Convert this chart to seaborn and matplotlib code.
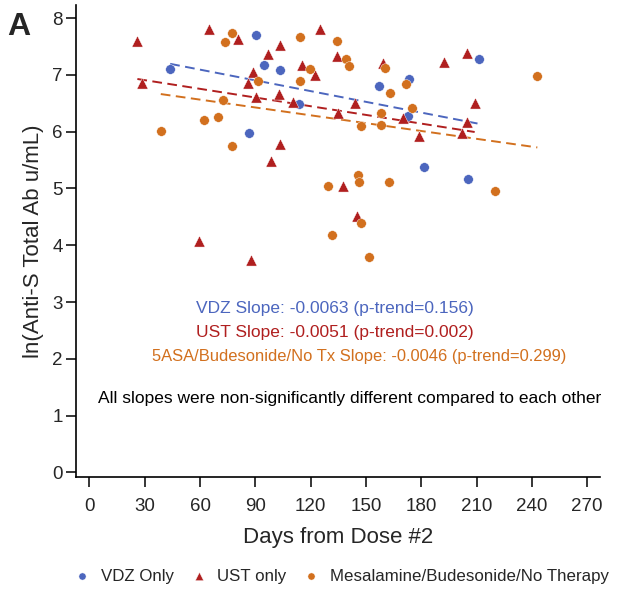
import matplotlib
matplotlib.use("Agg")
import numpy as np
import pandas as pd
import matplotlib.pyplot as plt
import seaborn as sns

# ---- data ----
vdz_days = [43.8, 90.5, 94.5, 103.5, 113.5, 86.7, 157.3, 173.3, 172.7, 211.3, 181.4, 205.2]
vdz_ab = [7.10, 7.71, 7.18, 7.09, 6.49, 5.98, 6.81, 6.93, 6.27, 7.28, 5.37, 5.17]

ust_days = [26.0, 64.6, 80.5, 125.3, 103.5, 96.6, 115.3, 122.6, 134.3, 28.7, 88.5,
            85.8, 90.5, 102.6, 110.2, 135.0, 103.5, 98.5, 59.7, 87.6, 159.1, 192.3,
            205.0, 144.3, 170.2, 209.0, 205.0, 179.0, 202.3, 137.4, 145.2]
ust_ab = [7.59, 7.81, 7.64, 7.81, 7.52, 7.37, 7.17, 6.99, 7.34, 6.86, 7.05,
          6.85, 6.61, 6.66, 6.52, 6.33, 5.78, 5.48, 4.07, 3.74, 7.21, 7.22,
          7.39, 6.50, 6.24, 6.50, 6.17, 5.93, 5.98, 5.05, 4.51]

oth_days = [77.6, 73.6, 114.4, 134.3, 119.5, 91.7, 114.4, 72.7, 62.4, 69.7, 38.7,
            77.6, 129.5, 131.7, 139.2, 140.7, 160.2, 243.0, 171.5, 163.3, 175.1,
            158.4, 147.4, 158.3, 220.0, 145.5, 146.5, 162.4, 147.4, 151.5]
oth_ab = [7.74, 7.58, 7.66, 7.59, 7.11, 6.90, 6.90, 6.55, 6.20, 6.26, 6.02,
          5.74, 5.05, 4.18, 7.28, 7.16, 7.12, 6.98, 6.84, 6.68, 6.42,
          6.32, 6.10, 6.11, 4.95, 5.24, 5.11, 5.12, 4.40, 3.80]

group_labels = ["VDZ Only", "UST only", "Mesalamine/Budesonide/No Therapy"]
trend_slopes = [-0.0063, -0.0051, -0.0046]
trend_intercepts = [7.47, 7.06, 6.84]
trend_texts = ["VDZ Slope: -0.0063 (p-trend=0.156)",
               "UST Slope: -0.0051 (p-trend=0.002)",
               "5ASA/Budesonide/No Tx Slope: -0.0046 (p-trend=0.299)"]
note_text = "All slopes were non-significantly different compared to each other"
x_ticks = [0, 30, 60, 90, 120, 150, 180, 210, 240, 270]
y_ticks = [0, 1, 2, 3, 4, 5, 6, 7, 8]

colors = ["#4C66BE", "#B01F1F", "#D2701E"]
markers = ["o", "^", "o"]
sizes = [48, 64, 48]

sns.set_theme(style="white")
plt.rcParams['font.family'] = ['Liberation Sans', 'DejaVu Sans']

df = pd.DataFrame({
    "days": vdz_days + ust_days + oth_days,
    "ab": vdz_ab + ust_ab + oth_ab,
    "group": [group_labels[0]] * len(vdz_days) + [group_labels[1]] * len(ust_days)
             + [group_labels[2]] * len(oth_days),
})

fig = plt.figure(figsize=(6.21, 5.91), dpi=100)
ax = fig.add_axes([76 / 621, 1 - 477 / 591, (600 - 76) / 621, (477 - 5) / 591])

for g, c, m, s in zip(group_labels, colors, markers, sizes):
    sub = df[df.group == g]
    sns.scatterplot(data=sub, x="days", y="ab", color=c, marker=m, s=s,
                    edgecolor="white", linewidth=0.3, ax=ax, label=g, zorder=3)

# trend lines
for g, c, b, a in zip(group_labels, colors, trend_slopes, trend_intercepts):
    sub = df[df.group == g]
    xs = np.array([sub.days.min(), sub.days.max()])
    ax.plot(xs, a + b * xs, color=c, lw=1.4, dashes=(5, 2.8), zorder=2)

ax.set_xlim(-7.3, 277)
ax.set_ylim(-0.08, 8.23)
ax.set_xticks(x_ticks)
ax.set_yticks(y_ticks)
ax.tick_params(axis="both", which="both", direction="out", length=7, width=1.1,
               color="black", labelsize=13.5, left=True, bottom=True)
ax.tick_params(axis="x", pad=8)
ax.tick_params(axis="y", pad=2.5)
for sp in ["top", "right"]:
    ax.spines[sp].set_visible(False)
for sp in ["left", "bottom"]:
    ax.spines[sp].set_color("black")
    ax.spines[sp].set_linewidth(1.2)
ax.set_xlabel("Days from Dose #2", fontsize=16, labelpad=9)
ax.set_ylabel("ln(Anti-S Total Ab u/mL)", fontsize=16, labelpad=6)

# annotations
sizes_txt = [12.5, 12.5, 11.9]
centers = [335, 335, 359]
ys = [309, 333, 357]
for t, c, cx, yy, fs in zip(trend_texts, colors, centers, ys, sizes_txt):
    fig.text(cx / 621, 1 - yy / 591, t, color=c, fontsize=fs, ha="center", va="center")
fig.text(350 / 621, 1 - 399 / 591, note_text, color="black", fontsize=12.55,
         ha="center", va="center")

fig.text(0.012, 0.98, "A", fontsize=23, fontweight="bold", ha="left", va="top")

leg = ax.legend(loc="lower left", bbox_to_anchor=(74 / 621, 0.012), bbox_transform=fig.transFigure,
                ncol=3, frameon=False, fontsize=12.2, markerscale=0.75,
                handletextpad=0.6, columnspacing=0.95, handlelength=1.0,
                borderaxespad=0, borderpad=0)

fig.savefig("out.png", dpi=100, facecolor="white")
